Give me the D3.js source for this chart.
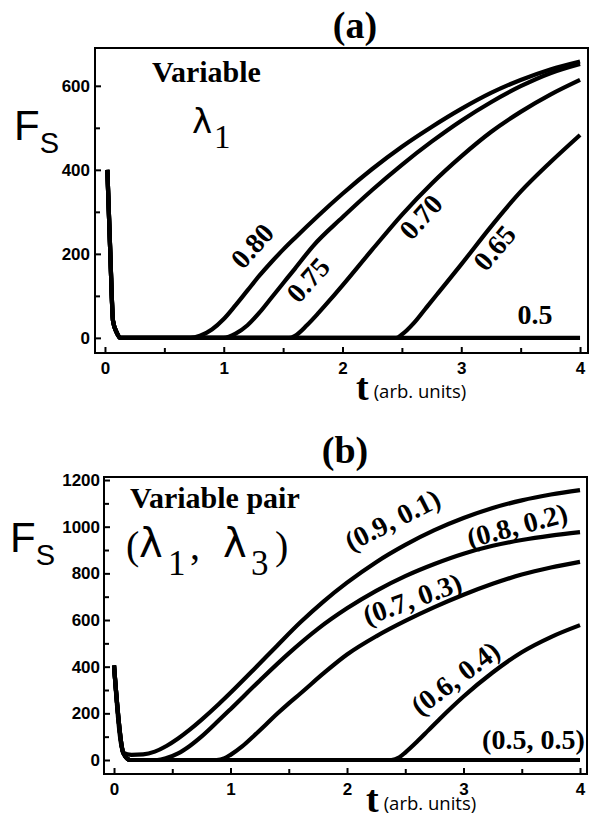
<!DOCTYPE html>
<html>
<head>
<meta charset="utf-8">
<script src="https://cdn.jsdelivr.net/npm/d3@7"></script>
<style>
body { margin: 0; background: #fff; }
svg { display: block; }
.tick text { font-family: "Liberation Sans", Arial, sans-serif; font-weight: bold; font-size: 17px; fill: #000; }
.serif { font-family: "Liberation Serif", "Times New Roman", serif; font-weight: bold; fill: #000; }
.sans { font-family: "Liberation Sans", Arial, sans-serif; fill: #000; }
</style>
</head>
<body>
<script>
// ---- panel (a) : variable lambda1 ----
const xTicksA = [0, 1, 2, 3, 4]
const yTicksA = [0, 200, 400, 600]
const decayA = [[0.02, 400], [0.045, 200], [0.068, 40], [0.1, 12], [0.13, 0]]
const labelsA = ['0.80', '0.75', '0.70', '0.65', '0.5']
const curveA080 = [[0.72, 0], [0.8, 5], [0.9, 20], [1.0, 45], [1.1, 78], [1.2, 113], [1.3, 148], [1.4, 180], [1.5, 210], [1.6, 238], [1.8, 292], [2.0, 343], [2.25, 402], [2.5, 455], [2.75, 502], [3.0, 545], [3.25, 583], [3.5, 614], [3.75, 639], [4.0, 658]]
const curveA075 = [[1.0, 0], [1.1, 10], [1.2, 30], [1.3, 60], [1.4, 95], [1.5, 130], [1.6, 165], [1.75, 218], [2.0, 287], [2.25, 352], [2.5, 412], [2.75, 467], [3.0, 517], [3.25, 561], [3.5, 599], [3.75, 630], [4.0, 652]]
const curveA070 = [[1.55, 0], [1.6, 5], [1.7, 30], [1.8, 60], [1.9, 92], [2.0, 125], [2.25, 210], [2.5, 293], [2.75, 367], [3.0, 432], [3.25, 490], [3.5, 538], [3.75, 579], [4.0, 614]]
const curveA065 = [[2.45, 0], [2.5, 8], [2.6, 35], [2.7, 70], [2.8, 105], [2.9, 140], [3.0, 175], [3.25, 265], [3.5, 348], [3.75, 418], [4.0, 483]]
const curveA050 = [[4.0, 0]]
// where each label sits, in data units, and its angle
const labelPosA = [[1.24, 219, -48], [1.71, 138, -48], [2.66, 288, -48], [3.28, 214, -50], [3.62, 55, 0]]

// ---- panel (b) : variable pair (lambda1, lambda3) ----
const xTicksB = [0, 1, 2, 3, 4]
const yTicksB = [0, 200, 400, 600, 800, 1000, 1200]
const decayB = [[0, 405], [0.08, 30]]
const labelsB = ['(0.9, 0.1)', '(0.8, 0.2)', '(0.7, 0.3)', '(0.6, 0.4)', '(0.5, 0.5)']
const curveB91 = [[0.15, 22], [0.25, 24], [0.35, 36], [0.45, 60], [0.55, 92], [0.65, 130], [0.75, 172], [0.9, 240], [1.0, 288], [1.2, 388], [1.4, 490], [1.6, 590], [1.8, 680], [2.0, 760], [2.25, 848], [2.5, 922], [2.75, 985], [3.0, 1037], [3.25, 1080], [3.5, 1113], [3.75, 1138], [4.0, 1157]]
const curveB82 = [[0.14, 0], [0.37, 0], [0.45, 8], [0.55, 28], [0.65, 60], [0.75, 100], [0.9, 170], [1.0, 218], [1.25, 340], [1.5, 457], [1.75, 562], [2.0, 650], [2.25, 725], [2.5, 788], [2.75, 840], [3.0, 884], [3.25, 918], [3.5, 943], [3.75, 962], [4.0, 977]]
const curveB73 = [[0.14, 0], [0.88, 0], [0.95, 8], [1.0, 22], [1.1, 58], [1.2, 103], [1.3, 150], [1.4, 198], [1.5, 243], [1.6, 285], [1.8, 372], [2.0, 452], [2.25, 530], [2.5, 596], [2.75, 655], [3.0, 708], [3.25, 755], [3.5, 795], [3.75, 825], [4.0, 849]]
const curveB64 = [[0.14, 0], [2.38, 0], [2.45, 12], [2.5, 32], [2.6, 78], [2.7, 128], [2.8, 178], [2.9, 226], [3.0, 272], [3.25, 375], [3.5, 462], [3.75, 527], [4.0, 578]]
const curveB55 = [[0.14, 0], [4.0, 0]]
const labelPosB = [[2.39, 1029, -27], [3.46, 1005, -15], [2.56, 690, -20], [2.93, 351, -37], [3.6, 86, 0]]

const W = 596, H = 819

const svg = d3.select('body').append('svg')
	.attr('width', W)
	.attr('height', H)

function drawPanel(p) {
	let g = svg.append('g')

	let x = d3.scaleLinear().domain(p.xDomain).range([p.left, p.right])
	let y = d3.scaleLinear().domain(p.yDomain).range([p.bottom, p.top])

	// minor ticks half way between the major ones
	let xMinor = p.xTicks.slice(0, -1).map(d => d + 0.5)
	let yMinor = p.yTicks.slice(0, -1).map(d => d + (p.yTicks[1] - p.yTicks[0]) / 2)

	g.append('g')
		.attr('transform', 'translate(0,' + p.bottom + ')')
		.call(d3.axisBottom(x).tickValues(p.xTicks).tickSize(-6).tickPadding(p.xPad).tickFormat(d3.format('d')))
		.call(a => a.select('.domain').remove())
	g.append('g')
		.attr('transform', 'translate(0,' + p.bottom + ')')
		.call(d3.axisBottom(x).tickValues(xMinor).tickSize(-5).tickFormat(''))
		.call(a => a.select('.domain').remove())
	g.append('g')
		.attr('transform', 'translate(' + p.left + ',0)')
		.call(d3.axisLeft(y).tickValues(p.yTicks).tickSize(-6).tickPadding(p.yPad).tickFormat(d3.format('d')))
		.call(a => a.select('.domain').remove())
	g.append('g')
		.attr('transform', 'translate(' + p.left + ',0)')
		.call(d3.axisLeft(y).tickValues(yMinor).tickSize(-5).tickFormat(''))
		.call(a => a.select('.domain').remove())

	g.selectAll('.tick line').attr('stroke', '#000').attr('stroke-width', 2)

	// frame
	g.append('rect')
		.attr('x', p.left)
		.attr('y', p.top)
		.attr('width', p.right - p.left)
		.attr('height', p.bottom - p.top)
		.attr('fill', 'none')
		.attr('stroke', '#000')
		.attr('stroke-width', 2)

	let line = d3.line()
		.x(d => x(d[0]))
		.y(d => y(d[1]))
		.curve(d3.curveMonotoneX)

	g.selectAll('.curve')
		.data(p.series)
		.enter()
		.append('path')
		.attr('class', 'curve')
		.attr('d', line)
		.attr('fill', 'none')
		.attr('stroke', '#000')
		.attr('stroke-width', 4.2)
		.attr('stroke-linejoin', 'round')

	g.selectAll('.clabel')
		.data(p.labels)
		.enter()
		.append('text')
		.attr('class', 'clabel serif')
		.attr('font-size', p.labelSize)
		.attr('text-anchor', 'middle')
		.attr('dominant-baseline', 'central')
		.attr('transform', (d, i) => 'translate(' + x(p.labelPos[i][0]) + ',' + y(p.labelPos[i][1]) + ') rotate(' + p.labelPos[i][2] + ')')
		.text(d => d)

	return g
}

// panel (a)
drawPanel({
	left: 95, right: 588, top: 48, bottom: 353,
	xDomain: [-0.084, 4.067], yDomain: [-36, 690],
	xTicks: xTicksA, yTicks: yTicksA, xPad: 9, yPad: 5,
	series: [decayA.concat(curveA050), decayA.concat(curveA065), decayA.concat(curveA070), decayA.concat(curveA075), decayA.concat(curveA080)],
	labels: labelsA, labelPos: labelPosA, labelSize: 28
})

// panel (b)
drawPanel({
	left: 104, right: 587, top: 477, bottom: 774,
	xDomain: [-0.086, 4.06], yDomain: [-60, 1213],
	xTicks: xTicksB, yTicks: yTicksB, xPad: 9, yPad: 4,
	series: [decayB.concat(curveB55), decayB.concat(curveB64), decayB.concat(curveB73), decayB.concat(curveB82), decayB.concat(curveB91)],
	labels: labelsB, labelPos: labelPosB, labelSize: 28
})

// titles
svg.append('text').attr('class', 'serif').attr('font-size', 38).attr('text-anchor', 'middle')
	.attr('x', 355).attr('y', 38).text('(a)')
svg.append('text').attr('class', 'serif').attr('font-size', 38).attr('text-anchor', 'middle')
	.attr('x', 345).attr('y', 463).text('(b)')

// in-plot captions
const lamFont = '"DejaVu Sans", sans-serif'
svg.append('text').attr('class', 'serif').attr('font-size', 30).attr('x', 152).attr('y', 82).text('Variable')
let lam1 = svg.append('text').attr('y', 133)
lam1.append('tspan').attr('class', 'sans').style('font-family', lamFont).attr('font-size', 34).attr('x', 192).text('λ')
lam1.append('tspan').attr('class', 'serif').style('font-weight', 'normal').attr('font-size', 33).attr('x', 214).attr('dy', 15).text('1')

svg.append('text').attr('class', 'serif').attr('font-size', 30).attr('x', 130).attr('y', 508).text('Variable pair')
let lam13 = svg.append('text').attr('y', 559)
lam13.append('tspan').attr('class', 'serif').style('font-weight', 'normal').attr('font-size', 40).attr('x', 126).text('(')
lam13.append('tspan').attr('class', 'sans').style('font-family', lamFont).attr('font-size', 40).attr('x', 139).attr('y', 557).text('λ')
lam13.append('tspan').attr('class', 'serif').style('font-weight', 'normal').attr('font-size', 35).attr('x', 168).attr('y', 575).text('1')
lam13.append('tspan').attr('class', 'serif').style('font-weight', 'normal').attr('font-size', 40).attr('x', 190).attr('y', 559).text(',')
lam13.append('tspan').attr('class', 'sans').style('font-family', lamFont).attr('font-size', 40).attr('x', 223).attr('y', 557).text('λ')
lam13.append('tspan').attr('class', 'serif').style('font-weight', 'normal').attr('font-size', 35).attr('x', 251).attr('y', 575).text('3')
lam13.append('tspan').attr('class', 'serif').style('font-weight', 'normal').attr('font-size', 40).attr('x', 275).attr('y', 559).text(')')

// y axis titles F_S
function fsLabel(xPos, yPos) {
	let t = svg.append('text').attr('x', xPos).attr('y', yPos)
	t.append('tspan').attr('class', 'sans').attr('font-size', 42).text('F')
	t.append('tspan').attr('class', 'sans').attr('font-size', 29).attr('dy', 13).attr('dx', 0).text('S')
}
fsLabel(14, 140)
fsLabel(10, 552)

// x axis titles
function tLabel(xPos, yPos) {
	let t = svg.append('text').attr('x', xPos).attr('y', yPos)
	t.append('tspan').attr('class', 'serif').attr('font-size', 38).text('t')
	t.append('tspan').attr('class', 'sans').style('font-family', '"Open Sans", sans-serif').attr('font-size', 18.5).attr('dx', 5).attr('dy', -2).text('(arb. units)')
}
tLabel(356, 400)
tLabel(366, 812)
</script>
</body>
</html>
